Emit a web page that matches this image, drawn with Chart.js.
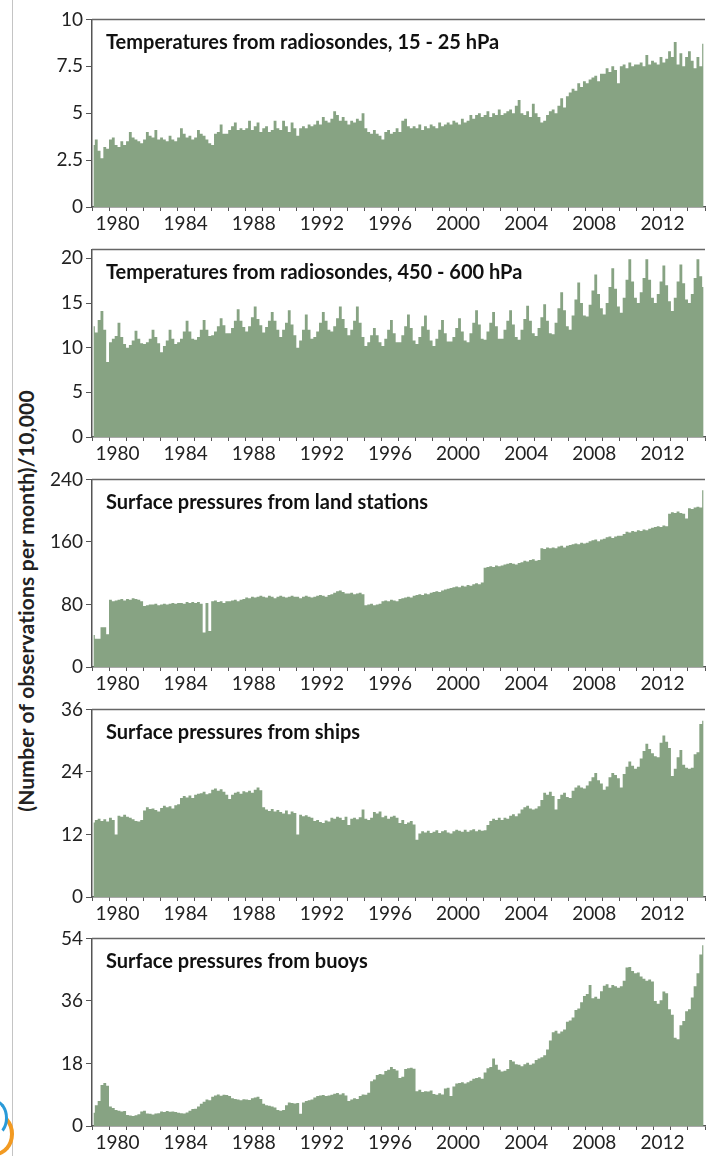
<!DOCTYPE html>
<html>
<head>
<meta charset="utf-8">
<title>Observations per month</title>
<script src="https://cdn.jsdelivr.net/npm/chart.js@4.4.1/dist/chart.umd.min.js"></script>
<style>
  html, body { margin: 0; padding: 0; background: #fff; }
  body { width: 706px; height: 1156px; position: relative; overflow: hidden; font-family: Lato, sans-serif; }
  .panel { position: absolute; left: 40px; width: 666px; height: 230px; }
  .rule { position: absolute; left: 12px; top: 0; width: 1px; height: 1156px; background: #c4c4c4; }
  .ylabel { position: absolute; left: 25px; top: 601px; transform: translate(-50%, -50%) rotate(-90deg);
            white-space: nowrap; font-weight: 700; font-size: 21px; letter-spacing: 0.2px; color: #222; }
  .logo-a { position: absolute; left: -24px; top: 1112px; width: 30px; height: 36px; border-radius: 50%;
            border: 4px solid transparent; border-right-color: #f29a22; border-bottom-color: #f29a22; }
  .logo-b { position: absolute; left: -18px; top: 1100px; width: 20px; height: 30px; border-radius: 50%;
            border: 3px solid transparent; border-top-color: #2a9ad8; border-right-color: #2a9ad8; }
</style>
</head>
<body>
<div class="rule"></div>
<div class="logo-a"></div>
<div class="logo-b"></div>
<div class="ylabel">(Number of observations per month)/10,000</div>
<div class="panel" style="top:5px"><canvas id="c0"></canvas></div>
<div class="panel" style="top:235px"><canvas id="c1"></canvas></div>
<div class="panel" style="top:465px"><canvas id="c2"></canvas></div>
<div class="panel" style="top:695px"><canvas id="c3"></canvas></div>
<div class="panel" style="top:924px"><canvas id="c4"></canvas></div>
<script>
// time axis: monthly counts averaged into 2-month bins, Jan 1979 .. Dec 2014
const firstYear = 1979;
const binsPerYear = 6;
const yearLabels = [1980, 1984, 1988, 1992, 1996, 2000, 2004, 2008, 2012];

// one row per year, six bins per row
const tempHigh = [
  3.3, 3.6, 3.0, 2.6, 3.2, 3.1,
  3.6, 3.7, 3.3, 3.2, 3.5, 3.3,
  3.5, 4.0, 3.7, 3.6, 3.5, 3.4,
  3.6, 4.0, 3.8, 3.7, 4.1, 3.6,
  3.7, 3.6, 3.5, 3.8, 3.6, 3.5,
  3.7, 4.2, 3.9, 3.7, 3.8, 3.6,
  3.7, 4.1, 3.9, 3.8, 3.6, 3.4,
  3.3, 3.9, 4.0, 4.4, 3.9, 3.9,
  4.1, 4.3, 4.5, 4.1, 4.2, 4.1,
  4.2, 4.6, 4.1, 4.3, 4.5, 4.0,
  4.2, 4.3, 4.0, 4.1, 4.6, 4.2,
  4.1, 4.6, 4.3, 4.0, 4.5, 4.2,
  3.8, 4.2, 4.3, 4.2, 4.4, 4.3,
  4.4, 4.6, 4.4, 4.8, 4.6, 4.5,
  4.7, 5.1, 4.9, 4.6, 4.8, 4.6,
  4.4, 4.6, 4.5, 4.7, 4.6, 5.0,
  4.2, 4.0, 3.9, 4.1, 3.9, 3.8,
  3.6, 4.0, 4.1, 3.9, 4.0, 4.2,
  4.0, 4.6, 4.7, 4.3, 4.2, 4.3,
  4.2, 4.4, 4.1, 4.3, 4.2, 4.4,
  4.3, 4.2, 4.5, 4.3, 4.4, 4.5,
  4.4, 4.6, 4.5, 4.4, 4.7, 4.5,
  4.6, 4.9, 4.7, 4.9, 5.0, 4.8,
  4.9, 5.1, 4.8, 5.0, 4.9, 5.2,
  4.9, 5.0, 5.1, 5.2, 5.0, 5.4,
  5.7, 5.0, 4.9, 5.1, 4.8, 5.5,
  5.0, 4.8, 4.5, 4.6, 4.9, 5.1,
  5.2, 5.0, 5.4, 5.8, 5.3, 5.9,
  6.1, 6.3, 6.2, 6.6, 6.4, 6.7,
  6.6, 6.8, 6.9, 7.0, 6.7, 7.1,
  7.1, 7.4, 7.2, 7.5, 7.3, 6.6,
  7.5, 7.6, 7.4, 7.7, 7.5, 7.6,
  7.6, 7.7, 7.5, 8.1, 7.6, 7.8,
  7.7, 7.6, 8.0, 7.7, 7.9, 8.3,
  8.0, 8.8, 7.6, 8.2, 7.5, 8.0,
  8.3, 7.8, 7.4, 8.0, 7.5, 8.7
];

const tempMid = [
  12.4, 11.7, 13.1, 14.1, 12.0, 8.4,
  10.6, 11.0, 11.3, 12.8, 11.2, 10.4,
  10.0, 10.3, 10.8, 11.9, 11.0, 10.5,
  10.4, 10.6, 11.0, 12.0, 11.2, 10.5,
  9.5, 10.2, 10.8, 12.0, 11.0, 10.4,
  10.6, 11.0, 11.8, 13.0, 11.8, 11.0,
  10.9, 11.2, 12.0, 13.1, 12.0, 11.3,
  11.4, 11.8, 12.4, 13.3, 12.5, 11.6,
  11.6, 12.2, 13.0, 14.3, 13.0, 12.3,
  11.8, 12.4, 13.4, 14.6, 13.2, 12.5,
  11.7, 12.3, 13.0, 14.0, 13.0, 12.0,
  11.2, 12.0, 12.8, 14.2, 12.6, 11.4,
  10.0, 10.8, 12.0, 13.7, 12.0, 11.0,
  11.2, 11.8, 12.8, 14.0, 13.0, 12.0,
  11.8, 12.4, 13.3, 14.6, 13.2, 12.2,
  11.4, 12.0, 13.0, 14.6, 12.8, 11.2,
  10.2, 10.6, 11.4, 12.2, 11.4, 10.6,
  10.2, 11.0, 12.0, 13.1, 11.6, 10.6,
  10.6, 11.4, 12.4, 13.7, 12.2, 10.8,
  10.4, 11.2, 12.4, 13.6, 12.0, 10.8,
  10.2, 11.0, 12.0, 13.1, 11.6, 10.7,
  10.7, 11.2, 12.2, 13.3, 11.8, 10.8,
  10.6, 11.6, 12.8, 14.2, 12.6, 11.0,
  10.9, 11.8, 12.8, 14.0, 12.4, 11.0,
  11.0, 12.0, 13.0, 14.2, 12.6, 11.2,
  10.9, 12.0, 13.2, 14.7, 13.0, 11.6,
  11.3, 12.2, 13.4, 14.85, 13.0, 11.6,
  11.5, 12.8, 14.4, 16.2, 14.2, 12.4,
  12.0, 13.6, 15.4, 17.3, 15.0, 13.6,
  13.5, 14.8, 16.4, 18.2, 16.0, 14.4,
  13.7, 15.0, 16.8, 18.9, 16.6, 14.6,
  13.9, 15.6, 17.6, 19.9, 17.4, 15.6,
  15.0, 16.2, 17.8, 19.9, 17.6, 15.6,
  15.0, 16.0, 17.4, 19.2, 17.0, 15.2,
  14.1, 15.6, 17.4, 19.3, 17.2, 15.4,
  15.0, 16.0, 17.8, 19.9, 18.0, 16.8
];

const landPressure = [
  41, 36, 36, 51, 51, 42,
  86, 84, 85, 86, 87, 85,
  87, 86, 88, 87, 86, 84,
  78, 79, 80, 80, 81, 79,
  80, 81, 80, 81, 82, 81,
  82, 82, 81, 83, 82, 83,
  82, 83, 81, 44, 82, 46,
  84, 85, 83, 84, 82, 84,
  84, 85, 86, 84, 86, 87,
  89, 88, 90, 89, 90, 91,
  90, 89, 91, 90, 88, 90,
  91, 90, 89, 90, 91, 90,
  90, 88, 90, 91, 90, 89,
  90, 91, 92, 91, 90, 92,
  93, 95, 97, 98, 96, 94,
  94, 95, 93, 94, 95, 93,
  79, 80, 81, 79, 80, 81,
  84, 85, 84, 86, 85, 84,
  87, 88, 89, 90, 89, 91,
  92, 93, 92, 94, 93, 95,
  96, 97, 96, 98, 99, 100,
  101, 102, 103, 102, 104, 103,
  105, 104, 106, 107, 106, 108,
  127, 128, 129, 128, 130, 129,
  130, 131, 132, 133, 132, 131,
  133, 134, 136, 135, 137, 138,
  136, 137, 152, 151, 153, 152,
  153, 152, 154, 155, 153, 155,
  156, 157, 158, 157, 159, 158,
  159, 161, 162, 163, 161, 163,
  164, 166, 167, 165, 167, 168,
  168, 170, 173, 172, 174, 173,
  175, 174, 176, 175, 177, 178,
  179, 180, 179, 181, 180, 196,
  198, 197, 199, 197, 196, 190,
  203, 202, 204, 205, 204, 226
];

const shipPressure = [
  14.3, 14.8, 15.0, 14.6, 14.9, 14.5,
  15.2, 14.8, 12.0, 15.6, 15.4, 15.8,
  15.4, 15.2, 14.9, 14.6, 14.5, 14.8,
  16.6, 17.2, 16.9, 17.0, 16.7, 16.4,
  17.1, 17.5, 17.2, 17.4, 17.0, 17.6,
  17.8, 19.0, 19.4, 19.1, 19.5, 19.0,
  19.6, 19.8, 19.9, 20.2, 19.7, 19.9,
  20.6, 20.8, 20.4, 20.7, 20.2, 19.6,
  18.8, 19.6, 20.0, 20.2, 19.8, 20.3,
  20.1, 20.4, 20.0, 20.6, 21.0, 20.5,
  17.2, 16.8, 16.5, 16.9, 16.4, 16.7,
  16.3, 16.0, 16.6, 15.9, 16.4, 16.1,
  12.0, 15.8, 15.5, 15.7, 15.4, 15.2,
  14.6, 14.8, 14.4, 14.2, 14.7, 14.5,
  15.2, 15.0, 15.4, 15.2, 14.8, 15.4,
  13.8, 15.0, 15.2, 14.9, 15.3, 16.8,
  15.0, 14.8, 15.2, 16.3, 16.0, 16.4,
  15.3, 15.6, 15.0, 15.4, 15.6, 15.2,
  14.2, 14.8, 14.0, 14.3, 14.6, 13.9,
  11.0, 12.2, 12.6, 12.4, 12.7, 12.3,
  12.5, 12.8, 12.3, 12.6, 12.8, 12.4,
  12.2, 12.6, 12.9, 12.7, 12.5, 12.9,
  12.5, 12.8, 13.0, 12.6, 12.9, 12.7,
  12.8, 13.8, 14.6, 15.0, 14.8, 15.2,
  14.8, 15.2, 15.0, 15.6, 15.9, 15.5,
  16.0, 16.8, 17.2, 17.5, 17.0, 16.8,
  17.0, 17.4, 18.6, 20.0, 19.6, 20.2,
  19.4, 16.8, 18.8, 19.6, 20.0, 19.2,
  19.0, 20.4, 21.0, 21.4, 21.0, 20.8,
  21.4, 22.2, 23.0, 23.8, 22.4, 21.8,
  20.6, 21.2, 23.0, 23.8, 23.4, 22.8,
  21.0, 23.6, 25.0, 26.0, 25.2, 24.6,
  25.0, 26.6, 28.0, 29.4, 28.4, 27.6,
  27.0, 26.8, 29.6, 31.0, 29.8, 28.6,
  23.2, 24.6, 26.8, 28.2, 25.4, 24.8,
  24.6, 24.8, 27.4, 27.8, 33.2, 33.8
];

const buoyPressure = [
  3.8, 6.0, 7.2, 11.8, 12.4, 11.6,
  5.6, 5.2, 4.6, 4.4, 4.2, 4.3,
  3.2, 3.0, 2.9, 3.1, 3.4, 4.2,
  4.4, 3.6, 3.5, 3.3, 3.6, 3.7,
  4.2, 4.0, 4.3, 4.1, 4.2, 4.0,
  3.8, 3.7, 3.6, 3.9, 4.4, 4.9,
  5.0, 5.6, 6.4, 7.0, 7.6, 7.4,
  8.4, 8.8, 9.1, 8.7, 9.0, 8.9,
  8.6, 8.0, 7.8, 7.6, 7.4, 7.7,
  7.6, 7.5, 8.0, 8.2, 8.4, 7.8,
  6.4, 6.0, 5.8, 5.6, 5.3, 4.6,
  4.4, 4.6, 6.0, 6.8, 6.6, 6.5,
  6.6, 3.5, 6.8, 7.2, 7.4, 7.6,
  8.2, 8.6, 8.8, 8.9, 8.6, 8.8,
  9.0, 9.3, 9.5, 9.1, 9.4, 8.8,
  7.2, 7.6, 8.0, 7.8, 8.6, 9.1,
  9.0, 9.6, 12.9, 13.4, 14.7, 15.0,
  14.8, 15.8, 16.2, 17.0, 16.4, 16.0,
  13.8, 14.2, 16.4, 16.6, 16.8, 16.5,
  10.0, 10.4, 9.8, 10.0, 9.9, 10.2,
  9.2, 9.0, 9.4, 9.1, 10.8, 11.0,
  8.6, 11.4, 12.2, 12.4, 12.6, 12.2,
  12.6, 13.0, 13.6, 13.8, 14.0, 13.6,
  15.4, 16.6, 17.0, 19.4, 17.6, 16.2,
  15.7, 15.9, 16.4, 19.0, 18.6, 17.8,
  17.6, 17.2, 17.8, 18.2, 17.6, 18.0,
  19.0, 19.4, 19.8, 20.4, 22.0, 24.6,
  27.0, 27.4, 26.6, 27.2, 27.8, 30.0,
  30.4, 31.2, 33.4, 33.8, 35.6, 37.4,
  38.0, 40.6, 36.8, 37.2, 36.6, 38.8,
  40.4, 40.8, 39.8, 40.6, 40.2, 39.8,
  40.2, 41.8, 45.6, 45.8, 44.6, 44.0,
  44.2, 43.0, 42.4, 41.8, 42.2, 41.6,
  36.0, 35.2, 36.2, 38.7, 38.2, 33.6,
  32.0, 25.4, 25.0, 29.0, 30.2, 33.0,
  33.6, 37.0, 40.2, 44.0, 49.4, 52.0
];

const panelSeries = [tempHigh, tempMid, landPressure, shipPressure, buoyPressure];
const panelTitles = [
  'Temperatures from radiosondes, 15 - 25 hPa',
  'Temperatures from radiosondes, 450 - 600 hPa',
  'Surface pressures from land stations',
  'Surface pressures from ships',
  'Surface pressures from buoys'
];
const panelMax = [10, 21, 240, 36, 54];
const panelTicks = [
  [0, 2.5, 5, 7.5, 10],
  [0, 5, 10, 15, 20],
  [0, 80, 160, 240],
  [0, 12, 24, 36],
  [0, 18, 36, 54]
];

const GREEN = '#87a383';
const AXIS = '#555';

Chart.defaults.font.family = 'Lato, sans-serif';
Chart.defaults.color = '#222';

// top edge of the frame and the panel heading inside the plot
const framePlugin = {
  id: 'panelFrame',
  afterDraw(chart, args, opts) {
    const { ctx, chartArea } = chart;
    ctx.save();
    ctx.strokeStyle = '#666';
    ctx.lineWidth = 1.5;
    ctx.beginPath();
    ctx.moveTo(chartArea.left, chartArea.top);
    ctx.lineTo(chartArea.right, chartArea.top);
    ctx.stroke();
    ctx.fillStyle = '#111';
    ctx.font = 'bold 20px Lato, sans-serif';
    ctx.textBaseline = 'alphabetic';
    ctx.fillText(opts.text, chartArea.left + 14, chartArea.top + 30);
    ctx.restore();
  }
};

function makePanel(idx) {
  const series = panelSeries[idx];
  const points = series.map((v, i) => ({ x: firstYear + (i + 0.5) / binsPerYear, y: v }));

  new Chart(document.getElementById('c' + idx), {
    type: 'line',
    data: {
      datasets: [{
        data: points,
        fill: 'origin',
        backgroundColor: GREEN,
        borderColor: GREEN,
        borderWidth: 0,
        pointRadius: 0,
        stepped: 'middle'
      }]
    },
    options: {
      responsive: true,
      maintainAspectRatio: false,
      animation: false,
      layout: { padding: { top: 10, left: 0, right: 0, bottom: 0 } },
      plugins: {
        legend: { display: false },
        tooltip: { enabled: false },
        panelFrame: { text: panelTitles[idx] }
      },
      scales: {
        x: {
          type: 'linear',
          min: 1979,
          max: 2015,
          afterFit: s => { s.height = 28; },
          grid: { drawOnChartArea: false, drawTicks: true, tickLength: 4, color: AXIS },
          border: { display: true, color: AXIS, width: 1.5 },
          ticks: {
            stepSize: 1,
            autoSkip: false,
            maxRotation: 0,
            padding: 1,
            labelOffset: 8.5,
            font: { size: 19 },
            callback: v => yearLabels.includes(v) ? String(v) : ''
          }
        },
        y: {
          min: 0,
          max: panelMax[idx],
          afterFit: s => { s.width = 52; },
          afterBuildTicks: s => { s.ticks = panelTicks[idx].map(v => ({ value: v })); },
          grid: { drawOnChartArea: false, drawTicks: true, tickLength: 6, color: AXIS },
          border: { display: true, color: AXIS, width: 1.5 },
          ticks: {
            padding: 3,
            font: { size: 19 },
            callback: v => String(v)
          }
        }
      }
    },
    plugins: [framePlugin]
  });
}

for (let i = 0; i < panelSeries.length; i++) makePanel(i);
</script>
</body>
</html>
